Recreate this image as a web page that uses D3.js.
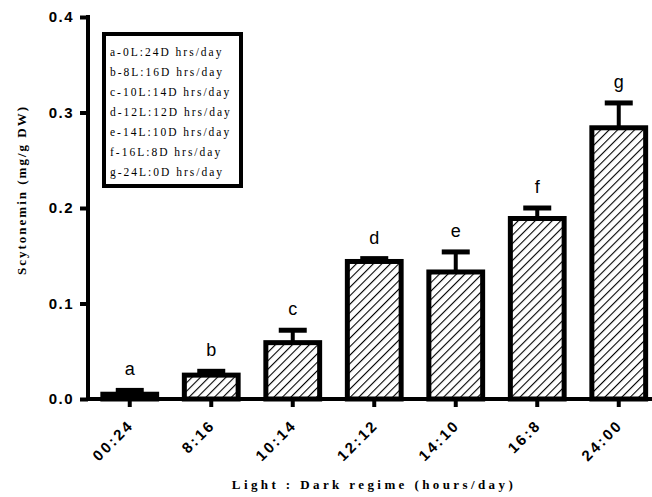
<!DOCTYPE html>
<html>
<head>
<meta charset="utf-8">
<script src="https://cdn.jsdelivr.net/npm/d3@7"></script>
<style>
  body { margin: 0; background: #fff; }
  .tick text { font-family: "Liberation Sans", Arial, sans-serif; font-weight: bold; }
</style>
</head>
<body>
<svg id="chart"></svg>
<script>
const regimes = ['00:24', '8:16', '10:14', '12:12', '14:10', '16:8', '24:00']
const means = [0.005, 0.025, 0.059, 0.144, 0.133, 0.189, 0.284]
const errors = [0.004, 0.004, 0.013, 0.003, 0.021, 0.011, 0.026]
const letters = ['a', 'b', 'c', 'd', 'e', 'f', 'g']
const legendLines = [
  'a-0L:24D hrs/day',
  'b-8L:16D hrs/day',
  'c-10L:14D hrs/day',
  'd-12L:12D hrs/day',
  'e-14L:10D hrs/day',
  'f-16L:8D hrs/day',
  'g-24L:0D hrs/day'
]
const yTicks = [0, 0.1, 0.2, 0.3, 0.4]

const WIDTH = 652
const HEIGHT = 497

const svg = d3.select('#chart')
  .attr('width', WIDTH)
  .attr('height', HEIGHT)

const defs = svg.append('defs')
const pattern = defs.append('pattern')
  .attr('id', 'hatch')
  .attr('patternUnits', 'userSpaceOnUse')
  .attr('width', 6)
  .attr('height', 6)
  .attr('patternTransform', 'rotate(45)')
pattern.append('rect').attr('width', 6).attr('height', 6).attr('fill', '#fff')
pattern.append('line')
  .attr('x1', 0).attr('y1', 0).attr('x2', 0).attr('y2', 6)
  .attr('stroke', '#000')
  .attr('stroke-width', 2.2)

const x = d3.scaleBand()
  .domain(regimes)
  .range([89, 659.5])
  .paddingInner(0.34)
  .paddingOuter(0.17)

const y = d3.scaleLinear()
  .domain([0, 0.4])
  .range([399, 17])

// bars
svg.append('g')
  .selectAll('rect')
  .data(means)
  .join('rect')
  .attr('x', (d, i) => x(regimes[i]))
  .attr('width', x.bandwidth())
  .attr('y', d => y(d))
  .attr('height', d => y(0) - y(d))
  .attr('fill', 'url(#hatch)')
  .attr('stroke', '#000')
  .attr('stroke-width', 5)

// error bars (upper only)
const err = svg.append('g')
means.forEach((m, i) => {
  const cx = x(regimes[i]) + x.bandwidth() / 2
  err.append('line')
    .attr('x1', cx).attr('x2', cx)
    .attr('y1', y(m)).attr('y2', y(m + errors[i]))
    .attr('stroke', '#000').attr('stroke-width', 4)
  err.append('line')
    .attr('x1', cx - 14).attr('x2', cx + 14)
    .attr('y1', y(m + errors[i])).attr('y2', y(m + errors[i]))
    .attr('stroke', '#000').attr('stroke-width', 5)
})

// significance letters
svg.append('g')
  .selectAll('text')
  .data(letters)
  .join('text')
  .attr('x', (d, i) => x(regimes[i]) + x.bandwidth() / 2)
  .attr('y', (d, i) => y(means[i] + errors[i]) - 15)
  .attr('text-anchor', 'middle')
  .style('font-family', '"Liberation Sans", Arial, sans-serif')
  .style('font-size', '18px')
  .text(d => d)

// axes
const xAxis = svg.append('g')
  .attr('transform', `translate(0, ${y(0)})`)
  .call(d3.axisBottom(x).tickSize(8).tickSizeOuter(0))
xAxis.select('.domain').attr('stroke-width', 4).attr('d', `M86,0H${WIDTH}`)
xAxis.selectAll('.tick line').attr('stroke-width', 4).attr('y1', 2)
xAxis.selectAll('.tick text')
  .attr('x', 0)
  .attr('y', 0)
  .attr('dy', 0)
  .attr('text-anchor', 'end')
  .attr('transform', 'translate(5, 27) rotate(-45)')
  .style('font-size', '15px')
  .style('letter-spacing', '2.5px')

const yAxis = svg.append('g')
  .attr('transform', 'translate(88, 0)')
  .call(d3.axisLeft(y).tickValues(yTicks).tickFormat(d3.format('.1f')).tickSize(8).tickSizeOuter(0))
yAxis.select('.domain').attr('stroke-width', 4).attr('d', 'M0,15V401')
yAxis.selectAll('.tick line').attr('stroke-width', 4)
yAxis.selectAll('.tick text')
  .attr('x', -14)
  .style('font-size', '15px')
  .style('letter-spacing', '1.5px')

// axis titles
svg.append('text')
  .attr('transform', 'translate(26, 190) rotate(-90)')
  .attr('text-anchor', 'middle')
  .style('font-family', '"Liberation Serif", "Times New Roman", serif')
  .style('font-weight', 'bold')
  .style('font-size', '13px')
  .style('letter-spacing', '2px')
  .text('Scytonemin (mg/g DW)')

svg.append('text')
  .attr('x', 374)
  .attr('y', 489)
  .attr('text-anchor', 'middle')
  .style('font-family', '"Liberation Serif", "Times New Roman", serif')
  .style('font-weight', 'bold')
  .style('font-size', '13px')
  .style('letter-spacing', '3.4px')
  .text('Light : Dark regime (hours/day)')

// legend box
const legend = svg.append('g')
legend.append('rect')
  .attr('x', 104).attr('y', 34)
  .attr('width', 137).attr('height', 152)
  .attr('fill', '#fff')
  .attr('stroke', '#000')
  .attr('stroke-width', 4)
legend.selectAll('text')
  .data(legendLines)
  .join('text')
  .attr('x', 110)
  .attr('y', (d, i) => 56 + i * 20)
  .style('font-family', '"Liberation Serif", "Times New Roman", serif')
  .style('font-size', '11.5px')
  .style('letter-spacing', '2px')
  .text(d => d)
</script>
</body>
</html>
